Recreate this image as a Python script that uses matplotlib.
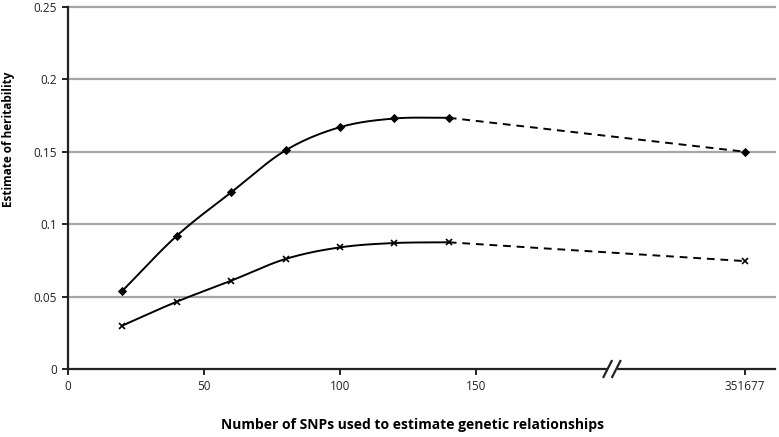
import numpy as np
import matplotlib.pyplot as plt

# data
snps = [20, 40, 60, 80, 100, 120, 140]
full_label = "351677"
h_diamond = [0.054, 0.092, 0.122, 0.151, 0.167, 0.173, 0.1735]
h_cross = [0.030, 0.0465, 0.061, 0.076, 0.084, 0.087, 0.0875]
h_diamond_full = 0.150
h_cross_full = 0.0745

y_ticks = [0, 0.05, 0.1, 0.15, 0.2, 0.25]
y_ticklabels = ["0", "0.05", "0.1", "0.15", "0.2", "0.25"]
x_ticks = [0, 50, 100, 150]

# where the full-SNP point and the axis break sit on the compressed axis
X_FULL = 249
X_BREAK = 200
X_MAX = 260


def smooth(x, y, n=30):
    # catmull-rom curve through the points (like Excel's smoothed line)
    x = np.asarray(x, float)
    y = np.asarray(y, float)
    px = np.concatenate([[2 * x[0] - x[1]], x, [2 * x[-1] - x[-2]]])
    py = np.concatenate([[2 * y[0] - y[1]], y, [2 * y[-1] - y[-2]]])
    t = np.linspace(0, 1, n)[:, None]
    xs, ys = [], []
    for i in range(1, len(px) - 2):
        for p, out in ((px, xs), (py, ys)):
            p0, p1, p2, p3 = p[i - 1], p[i], p[i + 1], p[i + 2]
            seg = 0.5 * (2 * p1 + (-p0 + p2) * t + (2 * p0 - 5 * p1 + 4 * p2 - p3) * t ** 2
                         + (-p0 + 3 * p1 - 3 * p2 + p3) * t ** 3)
            out.append(seg.ravel())
    return np.concatenate(xs), np.concatenate(ys)


plt.rcParams['font.family'] = ['Open Sans', 'DejaVu Sans']

fig = plt.figure(figsize=(7.79, 4.37), dpi=100)
ax = fig.add_axes([0.0873, 0.1556, 0.9077, 0.8284])

for vals, full, mk, ms in ((h_diamond, h_diamond_full, 'D', 3.5),
                           (h_cross, h_cross_full, 'x', 5)):
    sx, sy = smooth(snps, vals)
    ax.plot(sx, sy, color='black', lw=1.4, zorder=3)
    ax.plot([snps[-1], X_FULL], [vals[-1], full], color='black', lw=1.4,
            ls=(0, (4, 3)), zorder=3)
    ax.plot(snps + [X_FULL], vals + [full], ls='none', marker=mk, ms=ms,
            color='black', mew=1.2, zorder=4)

ax.set_xlim(0, X_MAX)
ax.set_ylim(0, 0.25)
ax.set_yticks(y_ticks)
ax.set_yticklabels(y_ticklabels)
ax.set_xticks(x_ticks + [X_FULL])
ax.set_xticklabels([str(v) for v in x_ticks] + [full_label])

for y in y_ticks[1:]:
    ax.axhline(y, color='#a6a6a6', lw=1.6, zorder=1, clip_on=False)

for s in ('top', 'right'):
    ax.spines[s].set_visible(False)
for s in ('left', 'bottom'):
    ax.spines[s].set_linewidth(1.6)
    ax.spines[s].set_color('#222222')
ax.tick_params(direction='out', length=4, width=1.4, labelsize=8.5,
               colors='#222222', pad=4)

# axis break marker on the x axis
ax.add_patch(plt.Rectangle((X_BREAK - 1.5, -0.003), 3, 0.006, color='white',
                           clip_on=False, zorder=5))
for dx in (-1.6, 1.6):
    ax.plot([X_BREAK + dx - 1.5, X_BREAK + dx + 1.5], [-0.0055, 0.0055],
            color='#222222', lw=1.6, clip_on=False, zorder=6)

fig.text(0.011, 0.682, 'Estimate of heritability', rotation=90, ha='center',
         va='center', fontsize=8.5, fontweight='bold')
fig.text(0.529, 0.027, 'Number of SNPs used to estimate genetic relationships',
         ha='center', va='center', fontsize=10, fontweight='bold')

fig.savefig('out.png', dpi=100)
